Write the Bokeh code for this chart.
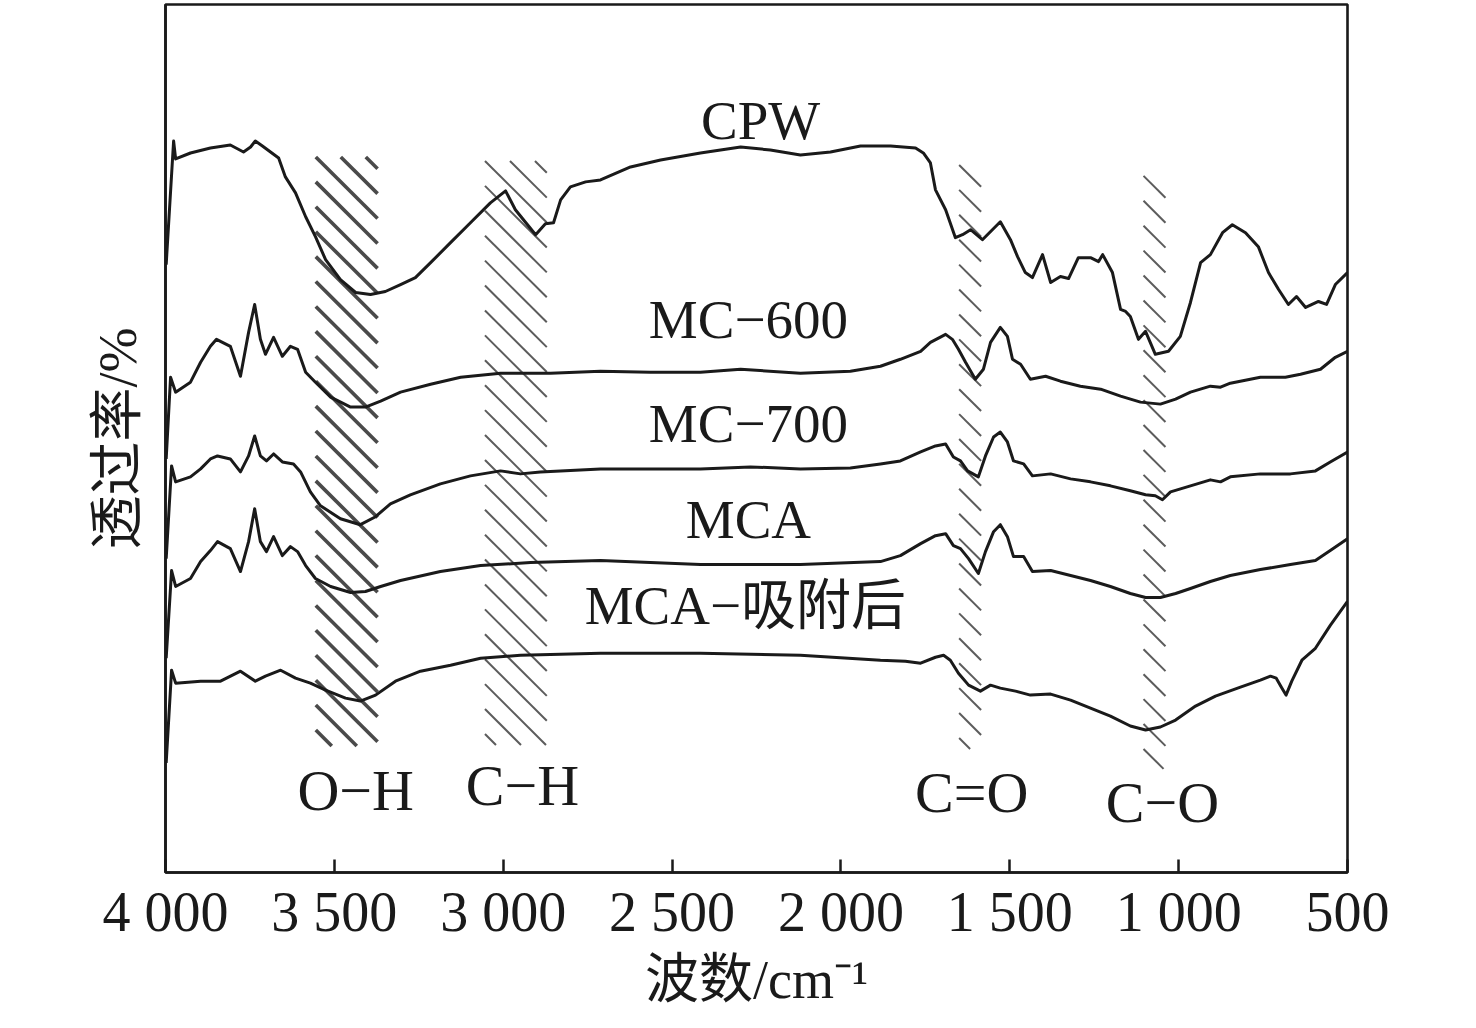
import math
from bokeh.plotting import figure
from bokeh.models import Range1d, FixedTicker
from bokeh.core.properties import value
from bokeh.embed import file_html
from bokeh.resources import INLINE

# ---------------- data (wavenumber cm^-1, transmittance in arbitrary offset units) ----------------
cpw_wn = [3998, 3976, 3970, 3926, 3867, 3808, 3769, 3748, 3734, 3713, 3689, 3665, 3645, 3615, 3585,
          3556, 3526, 3482, 3437, 3393, 3349, 3304, 3260, 3215, 3156, 3097, 3038, 2993, 2964, 2904,
          2875, 2851, 2830, 2801, 2756, 2712, 2623, 2534, 2416, 2297, 2209, 2120, 2031, 1942, 1853,
          1779, 1756, 1735, 1720, 1690, 1661, 1640, 1616, 1581, 1528, 1498, 1477, 1454, 1433, 1403,
          1379, 1350, 1326, 1297, 1261, 1237, 1225, 1196, 1172, 1157, 1143, 1119, 1098, 1069, 1030,
          995, 965, 935, 906, 870, 841, 802, 764, 734, 704, 675, 651, 624, 586, 562, 536, 500]
cpw_t = [610, 734, 716, 722, 727, 730, 723, 728, 734, 729, 723, 717, 698, 682, 658,
         638, 615, 595, 582, 580, 583, 590, 597, 612, 632, 652, 672, 684, 665, 640,
         651, 652, 675, 688, 693, 695, 708, 715, 722, 728, 725, 720, 723, 729, 729,
         727, 722, 712, 685, 665, 637, 640, 645, 635, 653, 635, 618, 602, 597, 620,
         592, 598, 596, 617, 617, 613, 620, 602, 565, 563, 558, 535, 543, 520, 523,
         538, 572, 612, 620, 642, 650, 642, 628, 602, 585, 570, 578, 567, 573, 570, 590, 602]

mc600_wn = [3998, 3985, 3970, 3926, 3896, 3867, 3849, 3808, 3778, 3754, 3736, 3719, 3704, 3680, 3654,
            3630, 3609, 3585, 3556, 3511, 3452, 3408, 3363, 3304, 3215, 3126, 3008, 2860, 2712, 2564,
            2416, 2297, 2120, 1972, 1883, 1824, 1764, 1735, 1690, 1670, 1652, 1631, 1602, 1578, 1557,
            1528, 1507, 1492, 1468, 1439, 1394, 1350, 1291, 1231, 1172, 1113, 1054, 1009, 965, 906,
            876, 847, 758, 684, 639, 580, 536, 500]
mc600_t = [415, 497, 482, 492, 512, 528, 535, 528, 498, 542, 570, 535, 520, 537, 518,
           528, 525, 502, 492, 477, 467, 467, 473, 482, 490, 497, 501, 501, 503, 502,
           502, 505, 501, 503, 508, 515, 523, 532, 540, 535, 525, 512, 495, 505, 532,
           547, 538, 515, 510, 495, 498, 493, 488, 485, 478, 472, 470, 475, 482, 488,
           487, 491, 497, 497, 500, 505, 517, 523]

mc700_wn = [3998, 3982, 3970, 3926, 3896, 3867, 3846, 3808, 3778, 3754, 3736, 3719, 3701, 3680, 3654,
            3621, 3600, 3571, 3541, 3482, 3423, 3378, 3334, 3275, 3186, 3097, 3008, 2949, 2890, 2712,
            2416, 2268, 2120, 1972, 1883, 1824, 1764, 1720, 1690, 1667, 1646, 1625, 1593, 1572, 1548,
            1528, 1507, 1489, 1459, 1433, 1379, 1320, 1261, 1202, 1143, 1098, 1069, 1048, 1024, 965,
            906, 876, 847, 758, 669, 595, 551, 500]
mc700_t = [315, 408, 392, 397, 405, 415, 418, 415, 402, 418, 438, 418, 413, 420, 412,
           410, 402, 382, 368, 355, 349, 357, 370, 379, 390, 398, 403, 400, 402, 405,
           405, 407, 405, 406, 410, 413, 422, 428, 430, 417, 413, 403, 397, 418, 437,
           442, 432, 413, 410, 398, 400, 395, 392, 388, 383, 379, 378, 374, 382, 388,
           394, 392, 397, 400, 400, 403, 412, 422]

mca_wn = [3998, 3982, 3970, 3926, 3896, 3867, 3846, 3808, 3778, 3754, 3736, 3719, 3701, 3680, 3654,
          3630, 3609, 3585, 3556, 3511, 3452, 3408, 3363, 3304, 3186, 3067, 2919, 2712, 2416, 2120,
          1883, 1824, 1764, 1720, 1690, 1667, 1646, 1622, 1593, 1572, 1548, 1528, 1507, 1489, 1459,
          1433, 1379, 1320, 1261, 1202, 1143, 1098, 1054, 1009, 965, 906, 847, 758, 669, 595, 551, 500]
mca_t = [215, 303, 287, 295, 312, 323, 332, 325, 302, 332, 365, 332, 322, 337, 318,
         327, 322, 308, 295, 287, 281, 282, 287, 293, 302, 308, 311, 313, 309, 309,
         312, 318, 330, 338, 340, 328, 325, 315, 300, 322, 342, 349, 337, 317, 317,
         302, 303, 298, 293, 287, 280, 276, 276, 280, 285, 292, 298, 304, 309, 313, 323, 335]

mcaads_wn = [3998, 3982, 3970, 3896, 3837, 3778, 3734, 3704, 3659, 3615, 3571, 3526, 3467, 3423, 3378,
             3319, 3245, 3156, 3067, 2949, 2712, 2416, 2120, 1883, 1809, 1764, 1720, 1696, 1676, 1652,
             1622, 1587, 1557, 1528, 1483, 1439, 1379, 1320, 1261, 1202, 1143, 1098, 1054, 1009, 950,
             891, 817, 758, 728, 711, 694, 682, 665, 635, 595, 551, 500]
mcaads_t = [110, 203, 190, 192, 192, 202, 192, 197, 203, 195, 190, 183, 175, 172, 178,
            192, 202, 208, 215, 218, 220, 220, 218, 213, 212, 210, 216, 218, 213, 200,
            188, 182, 188, 185, 182, 178, 179, 173, 165, 157, 147, 143, 146, 153, 167,
            177, 186, 193, 197, 195, 185, 178, 192, 213, 225, 248, 272]

series_names = ["CPW", "MC\u2212600", "MC\u2212700", "MCA", "MCA\u2212\u5438\u9644\u540e"]

# absorption bands (wavenumber limits, vertical extent)
band_names = ["O\u2212H", "C\u2212H", "C=O", "C\u2212O"]
band_hi_wn = [3555, 3054, 1650, 1104]
band_lo_wn = [3372, 2871, 1585, 1039]
band_bottom = [127, 128, 124, 104]
band_top = [718, 714, 710, 699]

x_ticks = [4000, 3500, 3000, 2500, 2000, 1500, 1000, 500]
x_tick_labels = ["4 000", "3 500", "3 000", "2 500", "2 000", "1 500", "1 000", "500"]

# ---------------- layout ----------------
SERIF = "Liberation Serif, 'Noto Sans CJK SC'"
W, H = 1460, 1012
FRAME_L, FRAME_R, FRAME_T, FRAME_B = 165, 1347, 4, 875
X_LO, X_HI = 500, 4000
Y_LO, Y_HI = 0, FRAME_B - FRAME_T

p = figure(width=W, height=H, output_backend="svg", toolbar_location=None,
           x_range=Range1d(X_HI, X_LO), y_range=Range1d(Y_LO, Y_HI),
           min_border_left=FRAME_L, min_border_right=W - FRAME_R, min_border_top=FRAME_T,
           min_border_bottom=H - FRAME_B)
p.grid.visible = False
p.background_fill_color = "white"
p.border_fill_color = "white"
p.outline_line_color = "#1a1a1a"
p.outline_line_width = 2.6
p.outline_line_alpha = 1.0

# hatched bands: 45-degree lines (in screen space) clipped to each band
kx = (FRAME_R - FRAME_L) / (X_HI - X_LO)      # px per cm^-1
ky = (FRAME_B - FRAME_T) / (Y_HI - Y_LO)      # px per y-unit
SPACING = 25.0                                # vertical spacing in px


def hatch_segments(hi, lo, bottom, top):
    w = (hi - lo) * kx
    hgt = (top - bottom) * ky
    xs0, ys0, xs1, ys1 = [], [], [], []
    m = -int(math.ceil(hgt / SPACING)) - 1
    while True:
        c = m * SPACING          # line passes through (u=0, vpx=hgt + c); vpx = hgt + c - u
        u1 = max(0.0, c)
        u2 = min(w, hgt + c)
        if u1 > w:
            break
        if u2 - u1 > 0.5:
            xs0.append(hi - u1 / kx); ys0.append(bottom + (hgt + c - u1) / ky)
            xs1.append(hi - u2 / kx); ys1.append(bottom + (hgt + c - u2) / ky)
        m += 1
    return xs0, ys0, xs1, ys1


band_styles = [("#4a4a4a", 3.6), ("#5c5c5c", 2.0), ("#5c5c5c", 2.0), ("#5c5c5c", 2.0)]
for i in range(len(band_names)):
    col, lw = band_styles[i]
    a, b, c, d = hatch_segments(band_hi_wn[i], band_lo_wn[i], band_bottom[i], band_top[i])
    p.segment(x0=a, y0=b, x1=c, y1=d, line_color=col, line_width=lw, line_cap="butt")

# spectra
for xs, ys in [(cpw_wn, cpw_t), (mc600_wn, mc600_t), (mc700_wn, mc700_t),
               (mca_wn, mca_t), (mcaads_wn, mcaads_t)]:
    p.line(xs, ys, line_color="#1a1a1a", line_width=3.0, line_join="round")

# curve labels
lab_x = [2238, 2274, 2274, 2274, 2283]
lab_y = [755, 555, 451, 354, 268]
p.text(x=lab_x, y=lab_y, text=series_names, text_font=value(SERIF), text_font_size="55px",
       text_align="center", text_baseline="middle", text_color="#1a1a1a")

bl_x = [3437, 2943, 1613, 1048]
bl_y = [82, 87, 80, 70]
p.text(x=bl_x, y=bl_y, text=band_names, text_font=value(SERIF), text_font_size="58px",
       text_align="center", text_baseline="middle", text_color="#1a1a1a")

# axes
xa = p.xaxis[0]
xa.ticker = FixedTicker(ticks=x_ticks)
xa.major_label_overrides = {t: s for t, s in zip(x_ticks, x_tick_labels)}
xa.major_tick_in = 13
xa.major_tick_out = 0
xa.minor_tick_line_color = None
xa.major_tick_line_width = 2.5
xa.major_tick_line_color = "#1a1a1a"
xa.axis_line_width = 2.6
xa.axis_line_color = "#1a1a1a"
xa.major_label_text_font = SERIF
xa.major_label_text_font_size = "56px"
xa.major_label_text_color = "#1a1a1a"
xa.major_label_standoff = 8
xa.axis_label = "\u6ce2\u6570/cm\u207b\u00b9"
xa.axis_label_text_font = SERIF
xa.axis_label_text_font_size = "54px"
xa.axis_label_text_font_style = "normal"
xa.axis_label_text_color = "#1a1a1a"
xa.axis_label_standoff = 4

ya = p.yaxis[0]
ya.major_tick_line_color = None
ya.minor_tick_line_color = None
ya.major_label_text_font_size = "0px"
ya.major_label_text_color = None
ya.axis_line_width = 2.6
ya.axis_line_color = "#1a1a1a"
ya.axis_label = "\u900f\u8fc7\u7387/%"
ya.axis_label_text_font = SERIF
ya.axis_label_text_font_size = "54px"
ya.axis_label_text_font_style = "normal"
ya.axis_label_text_color = "#1a1a1a"
ya.axis_label_standoff = 12

open("out.html", "w").write(file_html(p, INLINE))
